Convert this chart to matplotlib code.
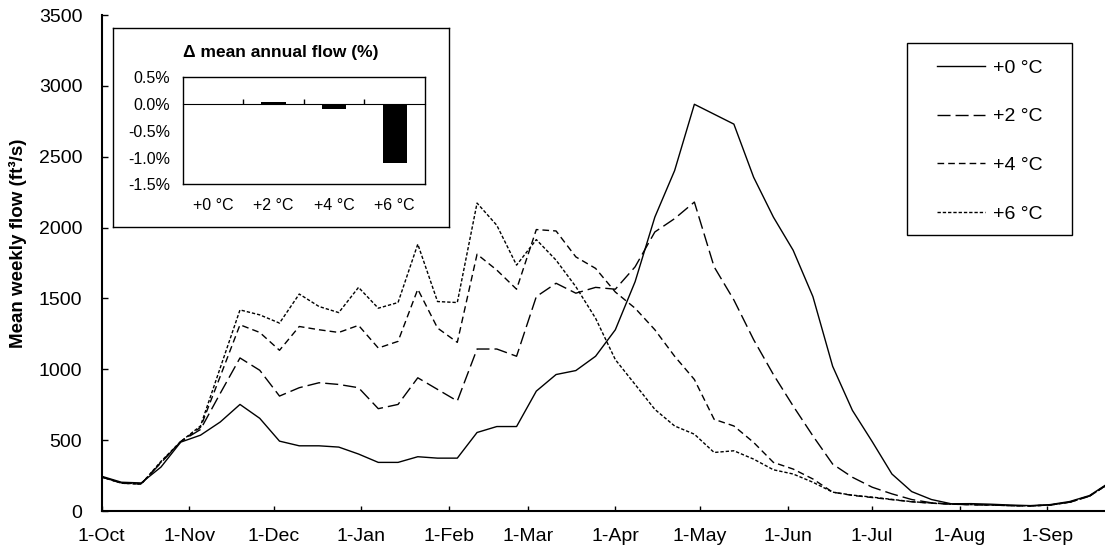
import numpy as np
import pandas as pd
import matplotlib
matplotlib.use("Agg")
import matplotlib.pyplot as plt
import matplotlib.dates as mdates
from matplotlib.ticker import FuncFormatter, FixedLocator, NullFormatter

plt.rcParams.update({
    "font.family": ["Liberation Sans", "DejaVu Sans"],
    "font.size": 13.5,
})

# Weekly mean flow (ft3/s), water year starting 1-Oct
week_start = pd.date_range("2000-10-01", periods=52, freq="7D")
flow_p0 = [245, 203, 198, 310, 486, 535, 628, 752, 654, 493,
           460, 460, 451, 402, 343, 343, 383, 373, 373, 554,
           596, 596, 846, 963, 991, 1092, 1279, 1618, 2074, 2402,
           2870, 2800, 2730, 2355, 2074, 1840, 1513, 1021, 710, 490,
           261, 137, 81, 51, 52, 48, 42, 38, 45, 67,
           109, 200]
flow_p2 = [240, 198, 192, 340, 490, 575, 830, 1080, 993, 811,
           870, 905, 893, 870, 722, 752, 940, 858, 776, 1143,
           1143, 1092, 1513, 1607, 1537, 1578, 1565, 1723, 1969, 2063,
           2180, 1723, 1489, 1209, 963, 741, 530, 331, 238, 168,
           121, 81, 58, 48, 45, 42, 38, 36, 42, 62,
           105, 195]
flow_p4 = [240, 196, 190, 345, 490, 590, 950, 1314, 1260, 1134,
           1302, 1279, 1260, 1310, 1150, 1197, 1565, 1291, 1190, 1812,
           1700, 1565, 1986, 1976, 1793, 1712, 1545, 1431, 1279, 1092,
           928, 647, 600, 484, 343, 296, 226, 133, 110, 95,
           80, 65, 55, 48, 45, 42, 38, 36, 42, 62,
           105, 195]
flow_p6 = [240, 196, 190, 350, 490, 600, 1010, 1419, 1384, 1326,
           1531, 1443, 1400, 1578, 1431, 1471, 1883, 1478, 1471, 2173,
           2016, 1735, 1915, 1770, 1583, 1360, 1068, 893, 717, 600,
           542, 413, 425, 366, 291, 261, 203, 133, 112, 98,
           82, 66, 56, 49, 45, 42, 38, 36, 42, 62,
           105, 195]

scenarios = ["+0 °C", "+2 °C", "+4 °C", "+6 °C"]
d_annual = [0.0, 0.03, -0.10, -1.10]  # change in mean annual flow (%)

W, H = 1105, 548
fig = plt.figure(figsize=(W / 100, H / 100), dpi=100)

def px_rect(x0, y0, x1, y1):
    return [x0 / W, 1 - y1 / H, (x1 - x0) / W, (y1 - y0) / H]

# Main chart
ax = fig.add_axes(px_rect(101.7, 15, 1105, 511))
styles = [
    ("-", flow_p0),
    ((0, (9.4, 3.6)), flow_p2),
    ((0, (4.8, 2.9)), flow_p4),
    ((0, (2.4, 1.4)), flow_p6),
]
lines = []
for (ls, vals), lab in zip(styles, scenarios):
    ln, = ax.plot(week_start, vals, color="black", lw=1.0, linestyle=ls, label=lab)
    lines.append(ln)

ax.set_ylim(0, 3500)
ax.set_yticks(np.arange(0, 3501, 500))
ax.set_xlim(week_start[0], week_start[0] + pd.Timedelta(days=355.5))
ax.xaxis.set_major_locator(mdates.MonthLocator(bymonthday=1))
ax.xaxis.set_major_formatter(mdates.DateFormatter("%-d-%b"))
ax.spines["top"].set_visible(False)
ax.spines["right"].set_visible(False)
for s in ("left", "bottom"):
    ax.spines[s].set_linewidth(1.5)
ax.tick_params(axis="x", direction="in", length=3.6, width=1.0, pad=12, labelsize=14)
ax.tick_params(axis="y", direction="in", length=4, width=1.0, pad=14, labelsize=14)
ax.set_ylabel("Mean weekly flow (ft³/s)", fontweight="bold")
ax.yaxis.set_label_coords(-0.0745, 0.54)

# Legend with separate frame
fig.add_artist(plt.Rectangle((907 / W, 1 - 235 / H), (1072 - 907) / W, (235 - 43) / H,
                             transform=fig.transFigure, facecolor="white",
                             edgecolor="black", lw=1.0, zorder=3))
leg = fig.legend(handles=lines, loc="center", bbox_to_anchor=(990 / W, 1 - 141 / H),
                 frameon=False, borderpad=0, handlelength=2.45, handletextpad=0.45,
                 labelspacing=1.6, fontsize=14)
leg.set_zorder(4)

# Inset: change in mean annual flow
bg = fig.add_axes(px_rect(113, 28, 449, 227))
bg.set_xticks([]); bg.set_yticks([])
for s in bg.spines.values():
    s.set_linewidth(1.0)
fig.text(281 / W, 1 - 52.7 / H, "Δ mean annual flow (%)", ha="center", va="center",
         fontsize=12.5, fontweight="bold")

ins = fig.add_axes(px_rect(182.7, 77.3, 425, 184.3))
ins.bar(np.arange(len(scenarios)), d_annual, width=0.4, color="black")
ins.set_xlim(-0.5, len(scenarios) - 0.5)
ins.set_ylim(-1.5, 0.5)
ins.set_yticks(np.arange(-1.5, 0.51, 0.5))
ins.yaxis.set_major_formatter(FuncFormatter(lambda v, p: f"{v + 0.0:.1f}%"))
ins.set_xticks(np.arange(len(scenarios)))
ins.set_xticklabels(scenarios)
ins.tick_params(axis="both", length=0, labelsize=11.5)
ins.tick_params(axis="y", pad=9)
ins.tick_params(axis="x", pad=10)
for s in ins.spines.values():
    s.set_linewidth(1.0)

# zero line with category boundary ticks
zero = ins.secondary_xaxis(1.5 / 2.0)
zero.xaxis.set_major_locator(FixedLocator([0.5, 1.5, 2.5]))
zero.xaxis.set_major_formatter(NullFormatter())
zero.tick_params(direction="out", length=3.6, width=1.0)
zero.spines["bottom"].set_linewidth(1.0)

fig.savefig("out.png", dpi=100)
